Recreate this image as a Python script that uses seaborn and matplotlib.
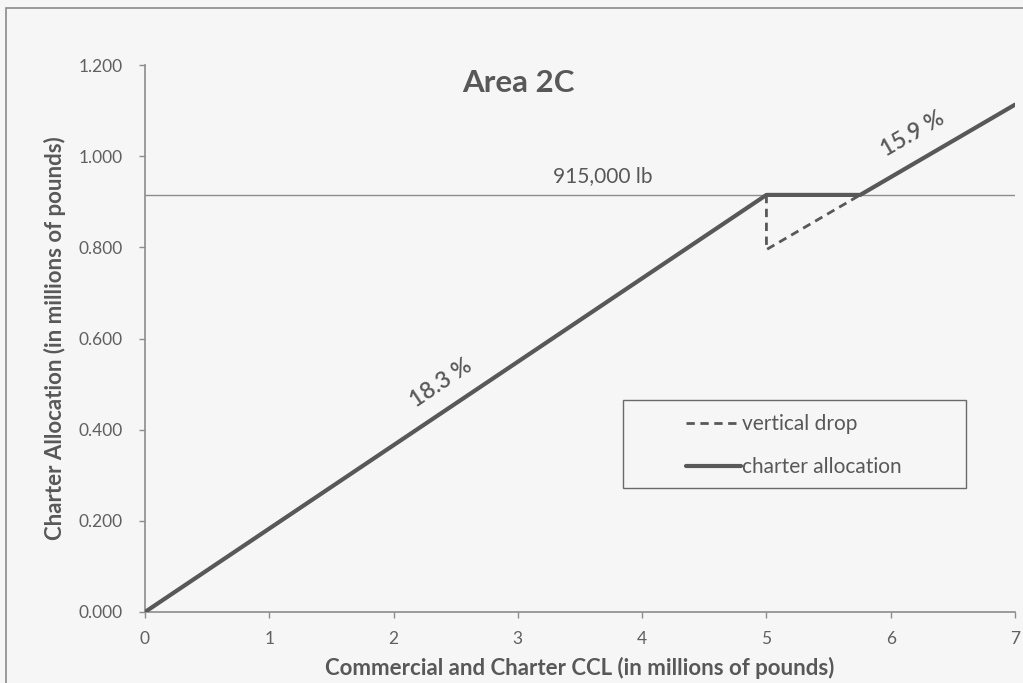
import numpy as np
import pandas as pd
import matplotlib
matplotlib.use("Agg")
import matplotlib.pyplot as plt
import seaborn as sns
from matplotlib.patches import Rectangle

# data (millions of pounds)
alloc_x = [0.0, 5.0, 5.755, 7.0]
alloc_y = [0.0, 0.915, 0.915, 1.113]
drop_x = [5.0, 5.0, 5.755]
drop_y = [0.915, 0.795, 0.915]
cap_level = 0.915
x_ticks = [0, 1, 2, 3, 4, 5, 6, 7]
y_ticks = [0.0, 0.2, 0.4, 0.6, 0.8, 1.0, 1.2]

sns.set_style("white")
plt.rcParams['font.family'] = ['Lato', 'DejaVu Sans']

grey = "#585858"
bg = "#f6f6f6"

fig = plt.figure(figsize=(10.23, 6.83), dpi=100, facecolor=bg)
ax = fig.add_axes([145 / 1023, 1 - 612 / 683, 870 / 1023, 547 / 683])
ax.set_facecolor(bg)

# outer chart frame
fig.patches.append(Rectangle((6 / 1023, -0.05), 1.2, 1 - 8 / 683 + 0.05,
                             transform=fig.transFigure, fill=False,
                             edgecolor="#8a8a8a", linewidth=1.2))

df_alloc = pd.DataFrame({"x": alloc_x, "y": alloc_y})
df_drop = pd.DataFrame({"x": drop_x, "y": drop_y})

ax.axhline(cap_level, color="#8c8c8c", linewidth=1.0, zorder=1)
sns.lineplot(data=df_drop, x="x", y="y", sort=False, estimator=None, ax=ax,
             color=grey, linewidth=2, linestyle=(0, (3, 2)),
             label="vertical drop", zorder=3)
sns.lineplot(data=df_alloc, x="x", y="y", sort=False, estimator=None, ax=ax,
             color=grey, linewidth=3, label="charter allocation", zorder=4)

ax.set_xlim(0, 7)
ax.set_ylim(0, 1.2)
ax.set_xticks(x_ticks)
ax.set_xticklabels([str(t) for t in x_ticks])
ax.set_yticks(y_ticks)
ax.set_yticklabels([f"{t:.3f}" for t in y_ticks])
ax.tick_params(axis="both", bottom=True, left=True, direction="out", length=4,
               width=1, color="#8c8c8c", labelcolor="#606060", labelsize=12.5)
ax.tick_params(axis="x", pad=10)
ax.tick_params(axis="y", pad=12)

for side in ["top", "right"]:
    ax.spines[side].set_visible(False)
for side in ["left", "bottom"]:
    ax.spines[side].set_color("#8c8c8c")
    ax.spines[side].set_linewidth(1.2)

ax.set_xlabel("Commercial and Charter CCL (in millions of pounds)", fontsize=16,
              fontweight="bold", color=grey, labelpad=7)
ax.set_ylabel("Charter Allocation (in millions of pounds)", fontsize=16,
              fontweight="bold", color=grey, labelpad=9)

fig.text(518 / 1023, 1 - 83 / 683, "Area 2C", ha="center", va="center",
         fontsize=22.5, fontweight="bold", color=grey)

ax.text(3.685, 0.957, "915,000 lb", ha="center", va="center", fontsize=15,
        color=grey)
ax.text(2.38, 0.502, "18.3 %", ha="center", va="center", fontsize=16.5,
        fontweight="semibold", color=grey, rotation=34, rotation_mode="anchor")
ax.text(6.18, 1.049, "15.9 %", ha="center", va="center", fontsize=16.5,
        fontweight="semibold", color=grey, rotation=30, rotation_mode="anchor")

# legend box
ax.add_patch(Rectangle((0.5494, 0.2267), 0.3943, 0.1609, transform=ax.transAxes,
                       fill=False, edgecolor="#6a6a6a", linewidth=1.0, zorder=5))
leg = ax.legend(loc="center", bbox_to_anchor=(0.7454, 0.3044), frameon=False,
                fontsize=15, handlelength=2.64, handletextpad=0.05,
                borderpad=0, labelspacing=1.1, borderaxespad=0)
for t in leg.get_texts():
    t.set_color(grey)

fig.savefig("out.png", dpi=100, facecolor=bg)
